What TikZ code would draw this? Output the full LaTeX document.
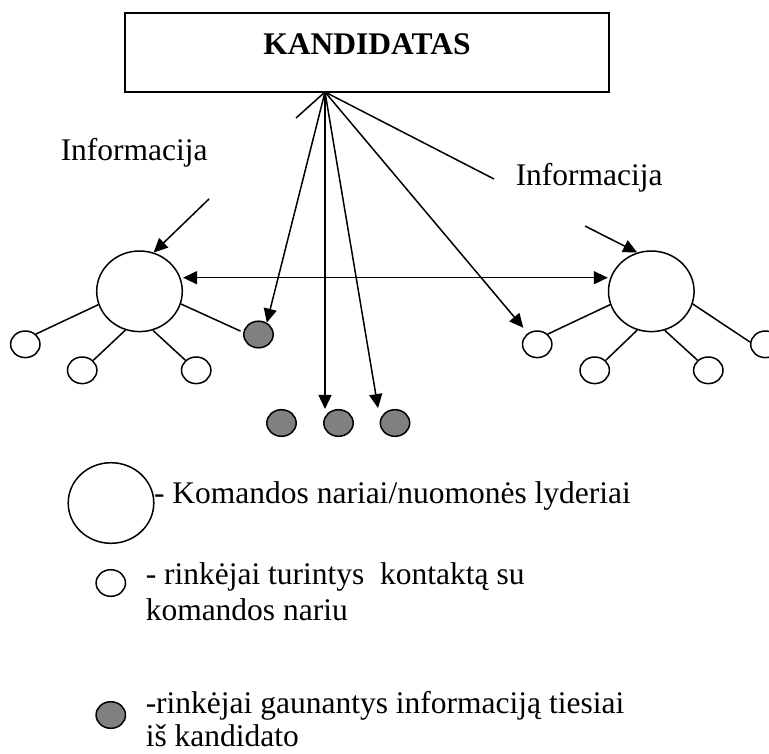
\documentclass[tikz,border=0pt]{standalone}
\usepackage{fontspec}
\setmainfont{Liberation Serif}
\usetikzlibrary{arrows.meta,shapes.geometric,calc}
\definecolor{dotgrey}{RGB}{128,128,128}
\begin{document}
\begin{tikzpicture}[x=1pt,y=-1pt,line width=1.5pt,
  txt/.style={font=\fontsize{31.5}{36}\selectfont,inner sep=0pt},
  bigc/.style={draw,ellipse,minimum width=85.6pt,minimum height=80.6pt,inner sep=0pt},
  smallc/.style={draw,ellipse,minimum width=29.4pt,minimum height=26.6pt,inner sep=0pt,fill=white},
  greyc/.style={smallc,fill=dotgrey},
  arr/.style={-{Triangle[length=14pt,width=13pt]}},
  darr/.style={{Triangle[length=14pt,width=13pt]}-{Triangle[length=14pt,width=13pt]}}
]
\path[use as bounding box] (0,0) rectangle (769,753);
\clip (0,0) rectangle (769,753);

% candidate box
\node[draw,minimum width=484pt,minimum height=79pt,inner sep=0pt] (kand) at (367,52.5) {};
\node[txt,font=\fontsize{31.5}{36}\selectfont\bfseries,anchor=base] (kandlbl) at (367,54) {KANDIDATAS};
\coordinate (apex) at (325,92);

% labels
\node[txt,anchor=base west] (infoL) at (60,160) {Informacija};
\node[txt,anchor=base west] (infoR) at (515,185) {Informacija};

% left cluster
\node[bigc] (bigL) at (139.5,291.3) {};
\node[smallc] (l1) at (25.3,344.3) {};
\node[smallc] (l2) at (82.2,370.3) {};
\node[smallc] (l3) at (196.2,370.3) {};
\node[greyc] (g0) at (258.5,334.5) {};

% right cluster
\node[bigc] (bigR) at (651.3,291.3) {};
\node[smallc] (r1) at (537.2,344.3) {};
\node[smallc] (r2) at (594.7,370.3) {};
\node[smallc] (r3) at (708.3,370.3) {};
\node[smallc] (r4) at (765.4,344.3) {};

% bottom grey dots
\node[greyc] (g1) at (281.5,423) {};
\node[greyc] (g2) at (338.5,423) {};
\node[greyc] (g3) at (395,423) {};

% cluster links
\draw (bigL.198) -- (l1.44);
\draw (bigL.250) -- (l2.42);
\draw (bigL.289) -- (l3.137);
\draw[shorten >=3pt] (bigL.343) -- (g0.172);
\draw (bigR.198) -- (r1.44);
\draw (bigR.250) -- (r2.42);
\draw (bigR.289) -- (r3.137);
\draw (bigR.343) -- (r4.172);

% information arrows (broken)
\coordinate (bl1) at (296,118);
\coordinate (bl2) at (209,199);
\coordinate (br1) at (494,179);
\coordinate (br2) at (585,226);
\draw (apex) -- (bl1);
\draw[arr] (bl2) -- (bigL.70);
\draw (apex) -- (br1);
\draw[arr] (br2) -- (bigR.110);

% direct arrows
\draw[arr] (apex) -- (g0.55);
\draw[arr] (apex) -- (apex |- g2.north);
\draw[arr] (apex) -- ($(g3.north west)+(-6,-5)$);
\draw[arr,shorten >=7pt] (apex) -- (r1);

% between leaders
\draw[darr] ([yshift=13.6pt]bigL.east) -- ([yshift=13.6pt]bigR.west);

% legend
\node[bigc] (legbig) at (111,503) {};
\node[txt,anchor=base west] (leg1) at (153.3,503) {- Komandos nariai/nuomonės lyderiai};
\node[smallc] (legsmall) at (110.8,583) {};
\node[txt,anchor=base west] (leg2a) at (145,584) {- rinkėjai turintys~ kontaktą su};
\node[txt,anchor=base west] (leg2b) at (145,620) {komandos nariu};
\node[greyc] (leggrey) at (110.8,715) {};
\node[txt,anchor=base west] (leg3a) at (145,713) {-rinkėjai gaunantys informaciją tiesiai};
\node[txt,anchor=base west,text depth=0pt] (leg3b) at (145,746) {iš kandidato};
\end{tikzpicture}
\end{document}
